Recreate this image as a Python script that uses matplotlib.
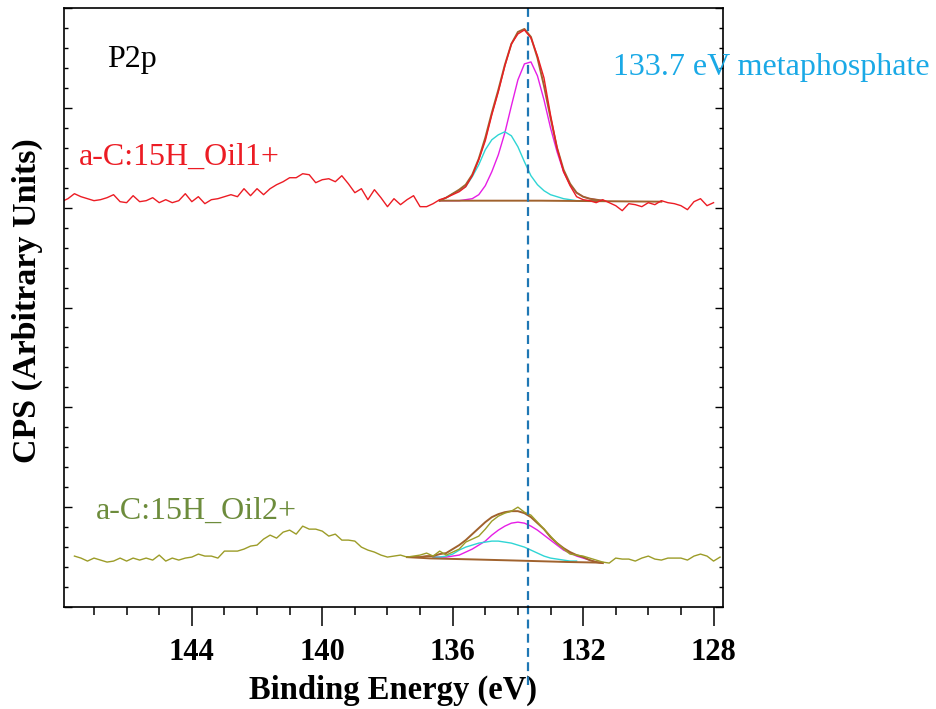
import matplotlib

matplotlib.use("Agg")
import matplotlib.pyplot as plt
from matplotlib.ticker import MultipleLocator, NullFormatter
import numpy as np

plt.rcParams["font.family"] = ["Liberation Serif", "DejaVu Serif"]

# --- data (binding energy in eV, intensity in arbitrary stacked units) ---
oil1_energy = np.round(np.arange(148.0, 127.9, -0.2), 1)
oil1_counts = [
    4.06, 4.09, 4.14, 4.11, 4.09, 4.07, 4.08, 4.10, 4.13, 4.06,
    4.05, 4.12, 4.06, 4.07, 4.10, 4.05, 4.08, 4.05, 4.07, 4.14,
    4.06, 4.11, 4.04, 4.08, 4.09, 4.11, 4.13, 4.11, 4.19, 4.12,
    4.19, 4.13, 4.19, 4.23, 4.26, 4.30, 4.30, 4.34, 4.33, 4.25,
    4.28, 4.29, 4.26, 4.32, 4.24, 4.15, 4.19, 4.08, 4.18, 4.10,
    4.01, 4.09, 4.03, 4.08, 4.12, 4.01, 4.01, 4.04, 4.08, 4.10,
    4.13, 4.16, 4.21, 4.32, 4.48, 4.67, 4.93, 5.16, 5.42, 5.64,
    5.74, 5.78, 5.70, 5.52, 5.30, 4.93, 4.60, 4.36, 4.22, 4.11,
    4.08, 4.07, 4.05, 4.08, 4.05, 4.02, 3.97, 4.04, 4.03, 4.01,
    4.05, 4.03, 4.07, 4.05, 4.04, 4.02, 3.98, 4.06, 4.09, 4.02,
    4.05,
]

oil1_fit_energy = np.round(np.arange(136.4, 131.3, -0.2), 1)
oil1_envelope = [
    4.07, 4.10, 4.14, 4.18, 4.23, 4.33, 4.49, 4.70, 4.95, 5.18,
    5.43, 5.64, 5.76, 5.79, 5.71, 5.50, 5.22, 4.90, 4.60, 4.38,
    4.24, 4.15, 4.11, 4.09, 4.08, 4.07,
]
oil1_meta = [
    4.07, 4.07, 4.07, 4.07, 4.08, 4.09, 4.13, 4.22, 4.36, 4.53,
    4.75, 5.02, 5.28, 5.44, 5.46, 5.32, 5.08, 4.80, 4.56, 4.36,
    4.23, 4.15, 4.11, 4.09, 4.08, 4.07,
]
oil1_second = [
    4.07, 4.10, 4.14, 4.17, 4.21, 4.31, 4.43, 4.58, 4.68, 4.73,
    4.76, 4.72, 4.61, 4.46, 4.32, 4.23, 4.17, 4.13, 4.11, 4.09,
    4.08, 4.07, 4.07, 4.07, 4.07, 4.07,
]
oil1_bg_energy = [136.4, 133.3, 129.6]
oil1_bg = [4.07, 4.07, 4.06]

oil2_energy = np.round(np.arange(147.6, 127.7, -0.2), 1)
oil2_counts = [
    0.51, 0.49, 0.46, 0.49, 0.47, 0.45, 0.46, 0.49, 0.46, 0.49,
    0.47, 0.49, 0.47, 0.52, 0.46, 0.49, 0.47, 0.49, 0.50, 0.53,
    0.51, 0.51, 0.49, 0.56, 0.56, 0.56, 0.58, 0.61, 0.62, 0.68,
    0.72, 0.69, 0.75, 0.77, 0.73, 0.81, 0.78, 0.78, 0.76, 0.71,
    0.73, 0.67, 0.67, 0.66, 0.60, 0.57, 0.55, 0.52, 0.50, 0.51,
    0.52, 0.50, 0.51, 0.52, 0.54, 0.51, 0.56, 0.52, 0.55, 0.58,
    0.65, 0.68, 0.71, 0.78, 0.86, 0.91, 0.94, 0.96, 1.00, 0.95,
    0.92, 0.85, 0.78, 0.71, 0.64, 0.58, 0.53, 0.52, 0.51, 0.49,
    0.47, 0.45, 0.44, 0.49, 0.48, 0.48, 0.46, 0.49, 0.51, 0.48,
    0.47, 0.49, 0.49, 0.49, 0.47, 0.51, 0.53, 0.51, 0.46, 0.50,
]

oil2_env_energy = np.round(np.arange(137.4, 131.3, -0.2), 1)
oil2_envelope = [
    0.50, 0.50, 0.50, 0.51, 0.51, 0.53, 0.54, 0.58, 0.62, 0.67,
    0.73, 0.79, 0.85, 0.90, 0.93, 0.95, 0.96, 0.96, 0.94, 0.90,
    0.84, 0.78, 0.70, 0.64, 0.59, 0.55, 0.52, 0.50, 0.47, 0.45,
    0.44,
]
oil2_meta_energy = np.round(np.arange(136.6, 131.3, -0.2), 1)
oil2_meta = [
    0.50, 0.50, 0.50, 0.51, 0.52, 0.55, 0.58, 0.62, 0.66, 0.72,
    0.77, 0.81, 0.84, 0.85, 0.84, 0.81, 0.77, 0.72, 0.67, 0.62,
    0.57, 0.54, 0.51, 0.49, 0.47, 0.45, 0.44,
]
oil2_second_energy = np.round(np.arange(136.6, 132.1, -0.2), 1)
oil2_second = [
    0.50, 0.50, 0.51, 0.53, 0.57, 0.60, 0.62, 0.64, 0.65, 0.66,
    0.66, 0.65, 0.64, 0.62, 0.60, 0.57, 0.54, 0.51, 0.49, 0.48,
    0.47, 0.46, 0.46,
]
oil2_bg_energy = [137.4, 136.7, 135.3, 133.9, 132.5, 131.4]
oil2_bg = [0.50, 0.487, 0.476, 0.464, 0.451, 0.444]

meta_position = 133.7

RED = "#ec1c24"
OLIVE = "#9c9c28"
OLIVE_TEXT = "#6d8c3c"
BROWN = "#a0622d"
MAGENTA = "#e61ee6"
CYAN = "#2fd5d5"
BLUE_TEXT = "#1aa9e6"

fig = plt.figure(figsize=(9.37, 7.09), dpi=100)
ax = fig.add_axes([64 / 937, 102 / 709, 659 / 937, 599 / 709])

lw = 1.0
ax.plot(oil1_fit_energy, oil1_meta, color=MAGENTA, lw=lw)
ax.plot(oil1_fit_energy, oil1_second, color=CYAN, lw=lw)
ax.plot(oil1_bg_energy, oil1_bg, color=BROWN, lw=1.4)
ax.plot(oil1_fit_energy, oil1_envelope, color=BROWN, lw=1.4)
ax.plot(oil1_energy, oil1_counts, color=RED, lw=lw)

ax.plot(oil2_meta_energy, oil2_meta, color=MAGENTA, lw=lw)
ax.plot(oil2_second_energy, oil2_second, color=CYAN, lw=lw)
ax.plot(oil2_bg_energy, oil2_bg, color=BROWN, lw=1.4)
ax.plot(oil2_env_energy, oil2_envelope, color=BROWN, lw=1.4)
ax.plot(oil2_energy, oil2_counts, color=OLIVE, lw=lw)

ax.plot([meta_position, meta_position], [6.0, -0.78], color="#1f77b4",
        lw=1.6, dashes=(4, 2.4), clip_on=False)

ax.set_xlim(147.92, 127.71)
ax.set_ylim(0, 6)

fs = 23
ax.text(146.6, 5.41, "P2p", fontsize=fs, color="black", va="baseline")
ax.text(147.46, 4.43, "a-C:15H_Oil1+", fontsize=fs, color=RED, va="baseline")
ax.text(146.94, 0.88, "a-C:15H_Oil2+", fontsize=fs, color=OLIVE_TEXT,
        va="baseline")
ax.text(131.08, 5.33, "133.7 eV metaphosphate", fontsize=fs,
        color=BLUE_TEXT, va="baseline", clip_on=False)

ax.xaxis.set_major_locator(MultipleLocator(4))
ax.xaxis.set_minor_locator(MultipleLocator(1))
ax.yaxis.set_major_locator(MultipleLocator(1))
ax.yaxis.set_minor_locator(MultipleLocator(0.2))
ax.yaxis.set_major_formatter(NullFormatter())

ax.tick_params(axis="x", which="major", direction="out", length=14,
               width=1.1, pad=8, labelsize=22)
ax.tick_params(axis="x", which="minor", direction="out", length=6, width=1.1)
ax.tick_params(axis="y", which="both", direction="in", left=True, right=True,
               width=1.0)
ax.tick_params(axis="y", which="major", length=6)
ax.tick_params(axis="y", which="minor", length=3)
for lab in ax.get_xticklabels():
    lab.set_fontweight("bold")
for spine in ax.spines.values():
    spine.set_linewidth(1.2)

ax.set_xlabel("Binding Energy (eV)", fontsize=23.5, fontweight="bold",
              labelpad=6)
ax.set_ylabel("CPS (Arbitrary Units)", fontsize=24.5, fontweight="bold")
ax.yaxis.set_label_coords(-0.032, 0.511)

fig.savefig("out.png", dpi=100)
